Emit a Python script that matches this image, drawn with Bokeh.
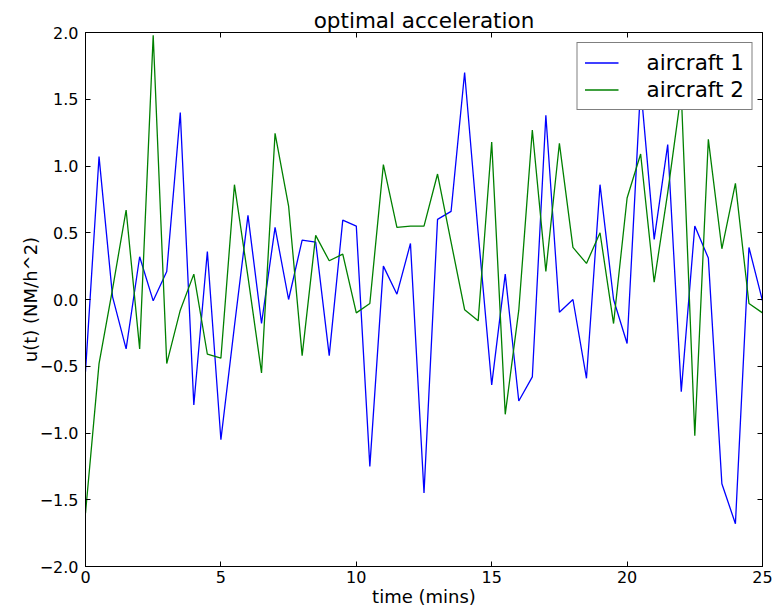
from bokeh.plotting import figure
from bokeh.models import Range1d, FixedTicker, LinearAxis, Legend, LegendItem, CustomLabelingPolicy
from bokeh.embed import file_html
from bokeh.resources import INLINE

time_mins = [0.0, 0.5, 1.0, 1.5, 2.0, 2.5, 3.0, 3.5, 4.0, 4.5,
             5.0, 5.5, 6.0, 6.5, 7.0, 7.5, 8.0, 8.5, 9.0, 9.5,
             10.0, 10.5, 11.0, 11.5, 12.0, 12.5, 13.0, 13.5, 14.0, 14.5,
             15.0, 15.5, 16.0, 16.5, 17.0, 17.5, 18.0, 18.5, 19.0, 19.5,
             20.0, 20.5, 21.0, 21.5, 22.0, 22.5, 23.0, 23.5, 24.0, 24.5, 25.0]

aircraft_1 = [-0.54, 1.07, 0.02, -0.37, 0.32, -0.01, 0.21, 1.40, -0.79, 0.36,
              -1.05, -0.20, 0.63, -0.18, 0.54, 0.0, 0.445, 0.43, -0.42, 0.595,
              0.55, -1.25, 0.25, 0.04, 0.42, -1.45, 0.60, 0.66, 1.70, 0.50,
              -0.64, 0.19, -0.76, -0.58, 1.38, -0.095, 0.0, -0.59, 0.86, 0.0,
              -0.33, 1.60, 0.45, 1.16, -0.69, 0.55, 0.31, -1.38, -1.68, 0.39, -0.01]

aircraft_2 = [-1.60, -0.48, 0.08, 0.67, -0.37, 1.98, -0.48, -0.08, 0.19, -0.41,
              -0.44, 0.86, 0.17, -0.55, 1.245, 0.70, -0.42, 0.48, 0.29, 0.34,
              -0.10, -0.03, 1.01, 0.54, 0.55, 0.55, 0.94, 0.43, -0.076, -0.16,
              1.18, -0.86, -0.08, 1.27, 0.21, 1.17, 0.39, 0.27, 0.50, -0.18,
              0.76, 1.09, 0.13, 0.80, 1.55, -1.02, 1.20, 0.38, 0.87, -0.03, -0.10]

x_ticks = [0, 5, 10, 15, 20, 25]
y_ticks = [-2.0, -1.5, -1.0, -0.5, 0.0, 0.5, 1.0, 1.5, 2.0]
y_tick_labels = ["\u22122.0", "\u22121.5", "\u22121.0", "\u22120.5", "0.0", "0.5", "1.0", "1.5", "2.0"]

FONT = "DejaVu Sans"

p = figure(width=774, height=610, output_backend="svg", toolbar_location=None,
           x_range=Range1d(0, 25), y_range=Range1d(-2, 2),
           min_border_left=85, min_border_right=12, min_border_top=32, min_border_bottom=44)
p.background_fill_color = "white"
p.border_fill_color = "white"
p.outline_line_color = "black"
p.outline_line_width = 1
p.grid.visible = False

p.title.text = "optimal acceleration"
p.title.align = "center"
p.title.text_font = FONT
p.title.text_font_size = "21.5px"
p.title.text_font_style = "normal"
p.title.text_color = "black"
p.title.standoff = 0

no_labels = CustomLabelingPolicy(code="""
    for (const i of indices) { indices.unset(i) }
    return indices
""")

def style_axis(ax, ticks, show_labels):
    ax.ticker = FixedTicker(ticks=ticks)
    ax.major_tick_in = 5
    ax.major_tick_out = 0
    ax.minor_tick_in = 0
    ax.minor_tick_out = 0
    ax.major_tick_line_color = "black"
    ax.axis_line_color = "black"
    ax.major_label_text_font = FONT
    ax.major_label_text_color = "black"
    ax.axis_label_text_font = FONT
    ax.axis_label_text_font_style = "normal"
    ax.axis_label_text_color = "black"
    if not show_labels:
        ax.major_label_policy = no_labels
        ax.major_label_overrides = {t: "" for t in ticks}
        ax.major_label_standoff = 0
        ax.major_label_text_font_size = "1px"

xa = p.xaxis[0]
style_axis(xa, x_ticks, True)
xa.major_label_text_font_size = "16px"
xa.major_label_standoff = 4
xa.axis_label = "time (mins)"
xa.axis_label_text_font_size = "18px"
xa.axis_label_standoff = 0

ya = p.yaxis[0]
style_axis(ya, y_ticks, True)
ya.major_label_text_font_size = "16px"
ya.major_label_standoff = 7
ya.major_label_overrides = {t: s for t, s in zip(y_ticks, y_tick_labels)}
ya.axis_label = "u(t) (NM/h^2)"
ya.axis_label_text_font_size = "18px"
ya.axis_label_standoff = -4

top_ax = LinearAxis()
style_axis(top_ax, x_ticks, False)
p.add_layout(top_ax, "above")
right_ax = LinearAxis()
style_axis(right_ax, y_ticks, False)
p.add_layout(right_ax, "right")

r1 = p.line(time_mins, aircraft_1, line_color="#0000ff", line_width=1.3)
r2 = p.line(time_mins, aircraft_2, line_color="#008000", line_width=1.3)

legend = Legend(items=[LegendItem(label="aircraft 1", renderers=[r1]),
                       LegendItem(label="aircraft 2", renderers=[r2])],
                location="top_right", margin=10, padding=7, spacing=2,
                label_height=25, glyph_width=34, glyph_height=25, label_standoff=28,
                label_text_font=FONT, label_text_font_size="21.5px",
                label_text_color="black",
                border_line_color="black", border_line_width=1,
                background_fill_color="white", background_fill_alpha=1.0)
p.add_layout(legend)

open("out.html", "w").write(file_html(p, INLINE))
